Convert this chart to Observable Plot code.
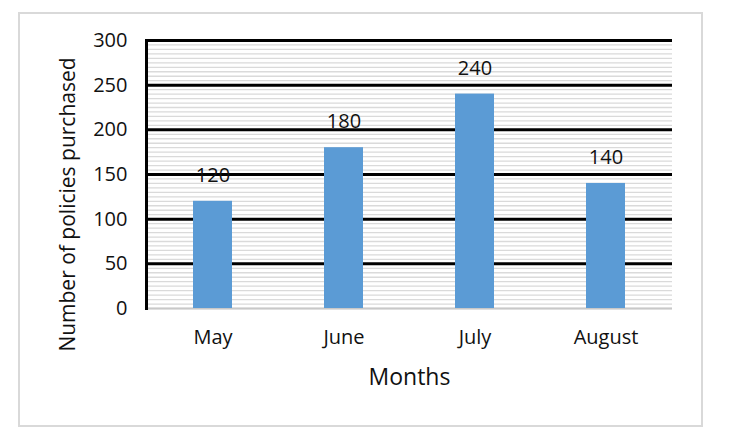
<!DOCTYPE html>
<html>
<head>
<meta charset="utf-8">
<script src="https://cdn.jsdelivr.net/npm/d3@7"></script>
<script src="https://cdn.jsdelivr.net/npm/@observablehq/plot@0.6"></script>
<style>
  body { margin: 0; background: #fff; }
  #wrap { position: relative; width: 739px; height: 436px; }
  #wrap svg { position: absolute; left: 0; top: 0; }
  #border { position: absolute; left: 18px; top: 12px; width: 681px; height: 411px; border: 2px solid #d9d9d9; }
</style>
</head>
<body>
<div id="wrap"><div id="border"></div><div id="chart"></div></div>
<script>
const months = ["May", "June", "July", "August"];
const policies = [120, 180, 240, 140];
const yTicks = [0, 50, 100, 150, 200, 250, 300];

const data = months.map((m, i) => ({month: m, value: policies[i]}));
const font = "'Open Sans', sans-serif";

let chart = Plot.plot({
  width: 739,
  height: 436,
  marginLeft: 146,
  marginRight: 67,
  marginTop: 40,
  marginBottom: 128,
  style: {fontFamily: font, background: "transparent", color: "#111"},
  x: {domain: months, paddingInner: 0.7, paddingOuter: 0.35},
  y: {domain: [0, 300]},
  marks: [
    // light minor lines every 5
    Plot.gridY({ticks: 60, stroke: "#dadada", strokeWidth: 1.3, strokeOpacity: 1}),
    Plot.gridY(yTicks.filter(d => d > 0), {stroke: "black", strokeWidth: 3, strokeOpacity: 1}),
    Plot.ruleY([0], {stroke: "#c8c8c8", strokeWidth: 2}),
    Plot.barY(data, {x: "month", y: "value", fill: "#5b9bd5"}),
    Plot.frame({anchor: "left", stroke: "black", strokeWidth: 3}),
    Plot.text(data, {x: "month", y: "value", text: d => String(d.value), dy: -26, fontSize: 20, fill: "#111"}),
    Plot.axisY(yTicks, {tickSize: 0, tickPadding: 19, fontSize: 20, label: null}),
    Plot.axisX({tickSize: 0, tickPadding: 21, fontSize: 20, label: null}),
    Plot.text(["Months"], {frameAnchor: "bottom", lineAnchor: "middle", dy: 69, fontSize: 23, fill: "#111"}),
    Plot.text(["Number of policies purchased"], {frameAnchor: "left", textAnchor: "middle", lineAnchor: "middle", dx: -78, dy: 30, rotate: -90, fontSize: 21, fill: "#111"})
  ]
});

d3.select("#chart").append(() => chart);
</script>
</body>
</html>
